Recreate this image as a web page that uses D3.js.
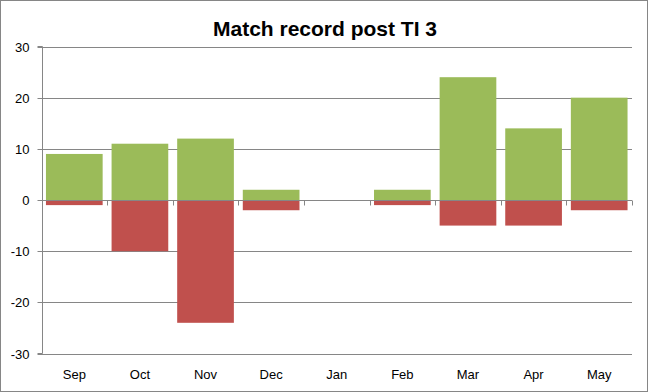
<!DOCTYPE html>
<html><head><meta charset="utf-8">
<script src="https://cdn.jsdelivr.net/npm/d3@7"></script>
<style>body{margin:0;background:#fff}svg{display:block}</style>
</head><body>
<svg id="c" width="648" height="392"></svg>
<script>
const categories = ["Sep","Oct","Nov","Dec","Jan","Feb","Mar","Apr","May"];
const wins = [9, 11, 12, 2, 0, 2, 24, 14, 20];
const losses = [-1, -10, -24, -2, 0, -1, -5, -5, -2];
const yTicks = [-30, -20, -10, 0, 10, 20, 30];
const title = "Match record post TI 3";

const svg = d3.select("#c");
const W = 648, H = 392;
const m = {l: 41.5, r: 16, t: 46.5, b: 38.5};
svg.append("rect").attr("x",0.5).attr("y",0.5).attr("width",W-1).attr("height",H-1)
  .attr("fill","#fff").attr("stroke","#868686");

const x = d3.scaleBand().domain(categories).range([m.l, W - m.r]).paddingInner(0.136).paddingOuter(0.068);
const xb = d3.scaleBand().domain(categories).range([m.l, W - m.r]);
const y = d3.scaleLinear().domain([-30, 30]).range([H - m.b, m.t]);

const g = svg.append("g");
// gridlines
g.selectAll("line.grid").data(yTicks).join("line")
  .attr("x1", m.l).attr("x2", W - m.r)
  .attr("y1", d => Math.round(y(d)) + 0.5).attr("y2", d => Math.round(y(d)) + 0.5)
  .attr("stroke", "#868686").attr("stroke-width", 1);

// bars
g.selectAll("rect.w").data(categories).join("rect")
  .attr("x", d => x(d)).attr("width", x.bandwidth())
  .attr("y", (d,i) => y(wins[i])).attr("height", (d,i) => y(0) - y(wins[i]))
  .attr("fill", "#9bbb59");
g.selectAll("rect.l").data(categories).join("rect")
  .attr("x", d => x(d)).attr("width", x.bandwidth())
  .attr("y", y(0)).attr("height", (d,i) => y(losses[i]) - y(0))
  .attr("fill", "#c0504d");

// zero axis line
const y0 = Math.round(y(0)) + 0.5;
g.append("line").attr("x1", m.l).attr("x2", W - m.r).attr("y1", y0).attr("y2", y0)
  .attr("stroke", "#868686");
// category ticks
const bounds = categories.map(d => xb(d)).concat([W - m.r]);
g.selectAll("line.xt").data(bounds).join("line")
  .attr("x1", d => Math.round(d) + 0.5).attr("x2", d => Math.round(d) + 0.5)
  .attr("y1", y0).attr("y2", y0 + 5).attr("stroke", "#868686");

// y axis
const yAxis = d3.axisLeft(y).tickValues(yTicks).tickSize(5).tickPadding(8).tickFormat(d => String(d));
const ya = svg.append("g").attr("transform", `translate(${Math.round(m.l)+0.5},0)`).call(yAxis);
ya.select(".domain").attr("stroke", "#868686").attr("d", `M-5,${y(30)}H0V${y(-30)}H-5`);
ya.selectAll(".tick line").attr("stroke", "#868686");
ya.selectAll(".tick text").attr("font-family", "Liberation Sans, Arial, sans-serif")
  .attr("font-size", 13).attr("fill", "#000");
ya.selectAll(".tick").attr("transform", d => `translate(0,${Math.round(y(d))+0.5})`);

// x labels
svg.selectAll("text.xl").data(categories).join("text")
  .attr("x", d => xb(d) + xb.bandwidth()/2).attr("y", 379)
  .attr("text-anchor", "middle").attr("font-family", "Liberation Sans, Arial, sans-serif")
  .attr("font-size", 13).attr("fill", "#000").text(d => d);

svg.append("text").attr("x", 325).attr("y", 36).attr("text-anchor", "middle")
  .attr("font-family", "Liberation Sans, Arial, sans-serif").attr("font-weight", "bold")
  .attr("font-size", 21).attr("fill", "#000").text(title);
</script>
</body></html>
